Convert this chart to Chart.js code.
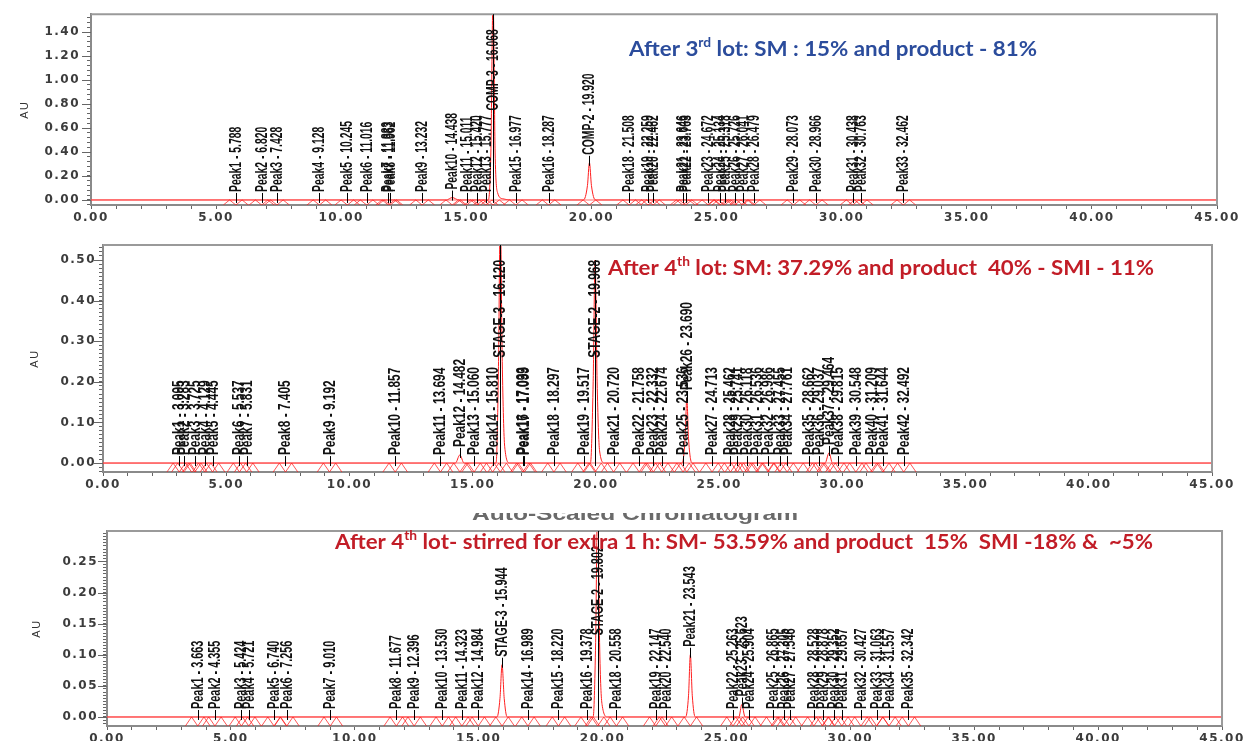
<!DOCTYPE html>
<html>
<head>
<meta charset="utf-8">
<script src="https://cdn.jsdelivr.net/npm/chart.js@4.4.1/dist/chart.umd.min.js"></script>
<style>
  html, body { margin: 0; padding: 0; background: #fff; }
  body { width: 1243px; height: 741px; position: relative; overflow: hidden; }
  canvas { position: absolute; left: 0; }
</style>
</head>
<body>
<canvas id="c1" style="top:0" width="1243" height="228"></canvas>
<canvas id="c2" style="top:228px" width="1243" height="270"></canvas>
<canvas id="c3" style="top:498px" width="1243" height="243"></canvas>
<script>
// ---- data (time in min, response in AU) ----
const xTickMajor = 5;

// after 3rd lot
const trace1Time = [0, 14.20, 14.44, 14.70, 15.88, 15.98, 16.068, 16.15, 16.25, 16.45, 16.80, 19.68, 19.84, 19.92, 20.00, 20.16, 45];
const trace1AU   = [0, 0, 0.02, 0, 0, 0.40, 1.70, 0.40, 0.06, 0.01, 0, 0, 0.12, 0.31, 0.12, 0, 0];
const peak1Names = ['Peak1', 'Peak2', 'Peak3', 'Peak4', 'Peak5', 'Peak6', 'Peak7', 'Peak8', 'Peak9', 'Peak10',
  'Peak11', 'Peak12', 'Peak13', 'COMP-3', 'Peak15', 'Peak16', 'COMP-2', 'Peak18', 'Peak19', 'Peak20',
  'Peak21', 'Peak22', 'Peak23', 'Peak24', 'Peak25', 'Peak26', 'Peak27', 'Peak28', 'Peak29', 'Peak30',
  'Peak31', 'Peak32', 'Peak33'];
const peak1Times = [5.788, 6.820, 7.428, 9.128, 10.245, 11.016, 11.883, 11.962, 13.232, 14.438,
  15.011, 15.420, 15.777, 16.068, 16.977, 18.287, 19.920, 21.508, 22.259, 22.462,
  23.646, 23.763, 24.672, 25.134, 25.318, 25.726, 26.041, 26.479, 28.073, 28.966,
  30.438, 30.763, 32.462];
const peak1AU = [0, 0, 0, 0, 0, 0, 0, 0, 0, 0.02,
  0, 0, 0, 1.70, 0, 0, 0.31, 0, 0, 0,
  0, 0, 0, 0, 0, 0, 0, 0, 0, 0,
  0, 0, 0];

// after 4th lot
const trace2Time = [0, 14.30, 14.48, 14.65, 15.95, 16.05, 16.12, 16.20, 16.30, 16.50, 19.78, 19.89, 19.968, 20.05, 20.15, 20.35, 23.50, 23.62, 23.69, 23.76, 23.90, 29.30, 29.46, 29.60, 45];
const trace2AU   = [0, 0, 0.02, 0, 0, 0.25, 0.62, 0.25, 0.04, 0, 0, 0.20, 0.50, 0.20, 0.03, 0, 0, 0.06, 0.16, 0.06, 0, 0, 0.025, 0, 0];
const peak2Names = ['Peak1', 'Peak2', 'Peak3', 'Peak4', 'Peak5', 'Peak6', 'Peak7', 'Peak8', 'Peak9', 'Peak10',
  'Peak11', 'Peak12', 'Peak13', 'Peak14', 'STAGE-3', 'Peak16', 'Peak17', 'Peak18', 'Peak19', 'STAGE-2',
  'Peak21', 'Peak22', 'Peak23', 'Peak24', 'Peak25', 'Peak26', 'Peak27', 'Peak28', 'Peak29', 'Peak30',
  'Peak31', 'Peak32', 'Peak33', 'Peak34', 'Peak35', 'Peak36', 'Peak37', 'Peak38', 'Peak39', 'Peak40',
  'Peak41', 'Peak42'];
const peak2Times = [3.095, 3.283, 3.725, 4.129, 4.445, 5.537, 5.831, 7.405, 9.192, 11.857,
  13.694, 14.482, 15.060, 15.810, 16.120, 17.033, 17.099, 18.297, 19.517, 19.968,
  20.720, 21.758, 22.332, 22.674, 23.536, 23.690, 24.713, 25.462, 25.741, 26.118,
  26.536, 26.986, 27.455, 27.761, 28.662, 29.037, 29.464, 29.815, 30.548, 31.209,
  31.644, 32.492];
const peak2AU = [0, 0, 0, 0, 0, 0, 0, 0, 0, 0,
  0, 0.02, 0, 0, 0.62, 0, 0, 0, 0, 0.50,
  0, 0, 0, 0, 0, 0.16, 0, 0, 0, 0,
  0, 0, 0, 0, 0, 0, 0.025, 0, 0, 0,
  0, 0];

// after 4th lot, stirred 1 h more
const trace3Time = [0, 15.74, 15.86, 15.944, 16.03, 16.15, 19.62, 19.72, 19.802, 19.88, 19.98, 20.20, 23.35, 23.47, 23.543, 23.62, 23.74, 25.50, 25.62, 25.75, 45];
const trace3AU   = [0, 0, 0.03, 0.084, 0.03, 0, 0, 0.12, 0.36, 0.12, 0.02, 0, 0, 0.035, 0.10, 0.035, 0, 0, 0.02, 0, 0];
const peak3Names = ['Peak1', 'Peak2', 'Peak3', 'Peak4', 'Peak5', 'Peak6', 'Peak7', 'Peak8', 'Peak9', 'Peak10',
  'Peak11', 'Peak12', 'STAGE-3', 'Peak14', 'Peak15', 'Peak16', 'STAGE-2', 'Peak18', 'Peak19', 'Peak20',
  'Peak21', 'Peak22', 'Peak23', 'Peak24', 'Peak25', 'Peak26', 'Peak27', 'Peak28', 'Peak29', 'Peak30',
  'Peak31', 'Peak32', 'Peak33', 'Peak34', 'Peak35'];
const peak3Times = [3.663, 4.355, 5.424, 5.721, 6.740, 7.256, 9.010, 11.677, 12.396, 13.530,
  14.323, 14.984, 15.944, 16.989, 18.220, 19.378, 19.802, 20.558, 22.147, 22.540,
  23.543, 25.263, 25.623, 25.904, 26.865, 27.305, 27.546, 28.528, 28.878, 29.352,
  29.657, 30.427, 31.063, 31.557, 32.342];
const peak3AU = [0, 0, 0, 0, 0, 0, 0, 0, 0, 0,
  0, 0, 0.084, 0, 0, 0, 0.36, 0, 0, 0,
  0.10, 0, 0.02, 0, 0, 0, 0, 0, 0, 0,
  0, 0, 0, 0, 0];

// ---- plugins ----
const tickLook = {
  id: 'tickLook',
  beforeDraw(chart) { chart.ctx.letterSpacing = '1.5px'; }
};

const peakLabels = {
  id: 'peakLabels',
  afterDatasetsDraw(chart, args, opts) {
    const { ctx, chartArea: a, scales: { x, y } } = chart;
    const zero = y.getPixelForValue(0);
    ctx.save();
    ctx.letterSpacing = '0px';
    // frame on top and right
    ctx.strokeStyle = '#9a9a9a';
    ctx.lineWidth = 2;
    ctx.beginPath();
    ctx.moveTo(a.left, a.top); ctx.lineTo(a.right, a.top); ctx.lineTo(a.right, a.bottom);
    ctx.stroke();
    // longer marks on major y ticks
    ctx.strokeStyle = '#666';
    ctx.lineWidth = 1;
    y.ticks.forEach(tk => {
      if (tk.label === '') return;
      const py = Math.round(y.getPixelForValue(tk.value)) + 0.5;
      ctx.beginPath(); ctx.moveTo(a.left - 9, py); ctx.lineTo(a.left, py); ctx.stroke();
    });
    // integration marks under each peak
    ctx.save();
    ctx.beginPath(); ctx.rect(a.left, a.top, a.right - a.left, a.bottom - a.top); ctx.clip();
    ctx.strokeStyle = 'rgba(255,30,30,0.75)';
    opts.times.forEach(t => {
      const p = x.getPixelForValue(t);
      const w = x.getPixelForValue(t + 0.25) - p;
      ctx.beginPath();
      ctx.moveTo(p - 2 * w, a.bottom); ctx.lineTo(p - w, zero); ctx.lineTo(p, a.bottom);
      ctx.lineTo(p + w, zero); ctx.lineTo(p + 2 * w, a.bottom);
      ctx.stroke();
    });
    ctx.restore();
    // peak labels
    ctx.font = opts.font;
    ctx.fillStyle = '#111';
    ctx.strokeStyle = '#000';
    ctx.lineWidth = 1;
    opts.names.forEach((n, i) => {
      const t = opts.times[i];
      const text = n + ' - ' + t.toFixed(3);
      const px = Math.round(x.getPixelForValue(t)) + 0.5;
      const apex = Math.max(y.getPixelForValue(opts.heights[i]), a.top);
      const len = ctx.measureText(text).width * opts.squeeze;
      let bottom = apex - 8;
      let lineA = bottom + 1, lineB = bottom + 11;
      if (bottom - len < a.top + 15) {
        bottom = a.top + 15 + len;
        lineA = apex; lineB = zero + 3;
      }
      ctx.beginPath(); ctx.moveTo(px, lineA); ctx.lineTo(px, lineB); ctx.stroke();
      ctx.save();
      ctx.translate(px - 0.5, bottom);
      ctx.rotate(-Math.PI / 2);
      ctx.scale(opts.squeeze, 1);
      ctx.textAlign = 'left';
      ctx.textBaseline = 'middle';
      ctx.fillText(text, 0, 0);
      ctx.restore();
    });
    // run title
    const mainFont = 'bold 21px Lato', supFont = 'bold 13px Lato';
    let total = 0;
    opts.title.forEach((s, k) => { ctx.font = k === 1 ? supFont : mainFont; total += ctx.measureText(s).width; });
    ctx.save();
    ctx.translate(opts.titleX, opts.titleY);
    ctx.scale(opts.titleW / total, 1);
    ctx.fillStyle = opts.titleColor;
    ctx.textBaseline = 'middle';
    ctx.textAlign = 'left';
    let cx = 0;
    opts.title.forEach((s, k) => {
      ctx.font = k === 1 ? supFont : mainFont;
      ctx.fillText(s, cx, k === 1 ? -6 : 0);
      cx += ctx.measureText(s).width;
    });
    ctx.restore();
    // half hidden heading of the last chromatogram
    if (opts.heading) {
      ctx.save();
      ctx.beginPath(); ctx.rect(0, 15, chart.width, a.top - 15); ctx.clip();
      ctx.font = 'bold 18px "Liberation Sans"';
      const hw = ctx.measureText(opts.heading).width;
      ctx.translate(472, 17);
      ctx.scale(326 / hw, 1);
      ctx.fillStyle = '#6a6a6a';
      ctx.textBaseline = 'middle';
      ctx.fillText(opts.heading, 0, 0);
      ctx.restore();
    }
    ctx.restore();
  }
};

const tickFont = { family: 'DejaVu Sans', weight: 'bold', size: 12 };

function makeChart(id, cfg) {
  const points = cfg.time.map((t, i) => ({ x: t, y: cfg.au[i] }));
  return new Chart(document.getElementById(id), {
    type: 'line',
    data: {
      datasets: [
        {
          data: [{ x: 0, y: 0 }, { x: 45, y: 0 }],
          borderColor: 'rgba(255,90,90,0.45)',
          borderWidth: 2,
          pointRadius: 0
        },
        {
          data: points,
          borderColor: '#ff1f1f',
          borderWidth: 1,
          pointRadius: 0,
          cubicInterpolationMode: 'monotone',
          fill: false
        }
      ]
    },
    options: {
      responsive: false,
      animation: false,
      layout: { padding: { left: cfg.padLeft, top: cfg.padTop, right: cfg.padRight, bottom: 0 } },
      plugins: {
        legend: { display: false },
        tooltip: { enabled: false },
        peakLabels: {
          names: cfg.names, times: cfg.times, heights: cfg.heights,
          font: cfg.labelFont, squeeze: cfg.squeeze,
          title: cfg.title, titleX: cfg.titleX, titleY: cfg.titleY, titleW: cfg.titleW,
          titleColor: cfg.titleColor, heading: cfg.heading
        }
      },
      scales: {
        x: {
          type: 'linear', min: 0, max: 45,
          afterFit: s => { s.height = cfg.xHeight; },
          border: { color: '#8a8a8a', width: 2 },
          grid: { drawOnChartArea: false, tickLength: 4, color: '#666' },
          ticks: {
            stepSize: 1, autoSkip: false, maxRotation: 0, padding: 2,
            color: '#3c3c3c', font: tickFont,
            callback: v => (v % xTickMajor === 0 ? v.toFixed(2) : '')
          }
        },
        y: {
          type: 'linear', min: cfg.yMin, max: cfg.yMax,
          afterFit: s => { s.width = cfg.yWidth; },
          border: { color: '#8a8a8a', width: 2 },
          grid: { drawOnChartArea: false, tickLength: 4, color: '#666' },
          ticks: {
            stepSize: cfg.yMinor, includeBounds: false, autoSkip: false, padding: cfg.yPad,
            color: '#3c3c3c', font: tickFont,
            callback: v => {
              const r = v / cfg.yMajor;
              return Math.abs(r - Math.round(r)) < 1e-6 ? v.toFixed(2) : '';
            }
          },
          title: {
            display: true, text: 'AU', color: '#333',
            font: { family: 'Liberation Sans', size: 11 }, padding: { top: 0, bottom: 0 }
          }
        }
      }
    },
    plugins: [tickLook, peakLabels]
  });
}

makeChart('c1', {
  time: trace1Time, au: trace1AU, names: peak1Names, times: peak1Times, heights: peak1AU,
  padLeft: 18, padTop: 14, padRight: 26, xHeight: 23, yWidth: 73, yPad: 7,
  yMin: -0.042, yMax: 1.55, yMinor: 0.04, yMajor: 0.2,
  labelFont: 'bold 17px "Liberation Sans"', squeeze: 0.61,
  title: ['After 3', 'rd', ' lot: SM : 15% and product - 81%'],
  titleX: 629, titleY: 49, titleW: 408, titleColor: '#2b4c9c'
});

makeChart('c2', {
  time: trace2Time, au: trace2AU, names: peak2Names, times: peak2Times, heights: peak2AU,
  padLeft: 28, padTop: 17, padRight: 31, xHeight: 26, yWidth: 75, yPad: 3,
  yMin: -0.022, yMax: 0.537, yMinor: 0.01, yMajor: 0.1,
  labelFont: 'bold 17px "Liberation Sans"', squeeze: 0.70,
  title: ['After 4', 'th', ' lot: SM: 37.29% and product  40% - SMI - 11%'],
  titleX: 608, titleY: 40, titleW: 546, titleColor: '#c21d27'
});

makeChart('c3', {
  time: trace3Time, au: trace3AU, names: peak3Names, times: peak3Times, heights: peak3AU,
  padLeft: 30, padTop: 33, padRight: 16, xHeight: 15, yWidth: 77, yPad: 5,
  yMin: -0.0145, yMax: 0.299, yMinor: 0.005, yMajor: 0.05,
  labelFont: 'bold 17px "Liberation Sans"', squeeze: 0.64,
  title: ['After 4', 'th', ' lot- stirred for extra 1 h: SM- 53.59% and product  15%  SMI -18% &  ~5%'],
  titleX: 335, titleY: 44, titleW: 818, titleColor: '#c21d27',
  heading: 'Auto-Scaled Chromatogram'
});
</script>
</body>
</html>
